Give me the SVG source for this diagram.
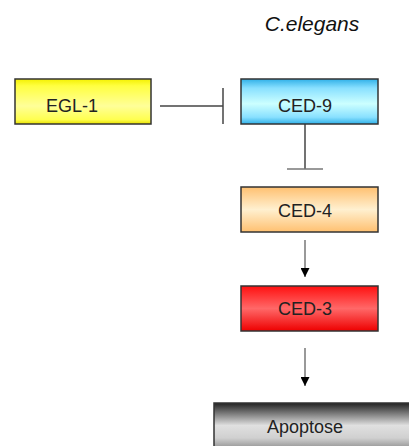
<svg xmlns="http://www.w3.org/2000/svg" width="409" height="446" viewBox="0 0 409 446">
<style>
.box{stroke:#333;stroke-width:1.5}
.lbl{font-family:"Liberation Sans",Arial,sans-serif;font-size:18px;fill:#222;text-anchor:middle}
.ln{stroke:#444;stroke-width:1.5;fill:none}
.ar{stroke:#777;stroke-width:1.5;fill:none}
</style>
<defs>
<linearGradient id="gY" x1="0" y1="0" x2="0" y2="1">
<stop offset="0" stop-color="#f4f000"/><stop offset="0.15" stop-color="#ffff40"/><stop offset="0.6" stop-color="#ffff99"/><stop offset="0.9" stop-color="#ffff50"/><stop offset="1" stop-color="#e8e000"/>
</linearGradient>
<linearGradient id="gB" x1="0" y1="0" x2="0" y2="1">
<stop offset="0" stop-color="#30b0e8"/><stop offset="0.2" stop-color="#88e0ff"/><stop offset="0.55" stop-color="#ccffff"/><stop offset="0.85" stop-color="#88e0ff"/><stop offset="1" stop-color="#30b0e8"/>
</linearGradient>
<linearGradient id="gO" x1="0" y1="0" x2="0" y2="1">
<stop offset="0" stop-color="#ffc070"/><stop offset="0.5" stop-color="#fff0d0"/><stop offset="1" stop-color="#ffc070"/>
</linearGradient>
<linearGradient id="gR" x1="0" y1="0" x2="0" y2="1">
<stop offset="0" stop-color="#ff1010"/><stop offset="0.5" stop-color="#ff6868"/><stop offset="1" stop-color="#ee0000"/>
</linearGradient>
<linearGradient id="gG" x1="0" y1="0" x2="0" y2="1">
<stop offset="0" stop-color="#222"/><stop offset="0.45" stop-color="#e0e0e0"/><stop offset="0.7" stop-color="#d0d0d0"/><stop offset="1" stop-color="#777"/>
</linearGradient>
<marker id="arr" viewBox="0 0 10 10" refX="10" refY="5" markerWidth="6" markerHeight="6" orient="auto" markerUnits="strokeWidth">
<path d="M0,0 L10,5 L0,10 z" fill="#000"/>
</marker>
</defs>
<text x="312" y="31" style="font-family:'Liberation Sans',Arial,sans-serif;font-size:21px;font-style:italic;fill:#111;text-anchor:middle">C.elegans</text>
<g id="connectors">
<line class="ln" x1="160" y1="106" x2="223" y2="106"/>
<line class="ln" x1="223" y1="88" x2="223" y2="124"/>
<line class="ln" x1="305" y1="124" x2="305" y2="169"/>
<line class="ar" x1="287" y1="169" x2="323" y2="169"/>
<line class="ar" x1="305" y1="240" x2="305" y2="277" marker-end="url(#arr)"/>
<line class="ar" x1="305" y1="348" x2="305" y2="386" marker-end="url(#arr)"/>
</g>
<g id="egl1"><rect class="box" x="15" y="79" width="136" height="45" fill="url(#gY)"/><text class="lbl" x="72" y="112">EGL-1</text></g>
<g id="ced9"><rect class="box" x="241" y="79" width="137" height="45" fill="url(#gB)"/><text class="lbl" x="305" y="112">CED-9</text></g>
<g id="ced4"><rect class="box" x="241" y="187" width="137" height="45" fill="url(#gO)"/><text class="lbl" x="305" y="217">CED-4</text></g>
<g id="ced3"><rect class="box" x="241" y="286" width="137" height="45" fill="url(#gR)"/><text class="lbl" x="305" y="315">CED-3</text></g>
<g id="apoptose"><rect class="box" x="214" y="403" width="200" height="50" fill="url(#gG)"/><text class="lbl" x="305" y="433">Apoptose</text></g>
</svg>
